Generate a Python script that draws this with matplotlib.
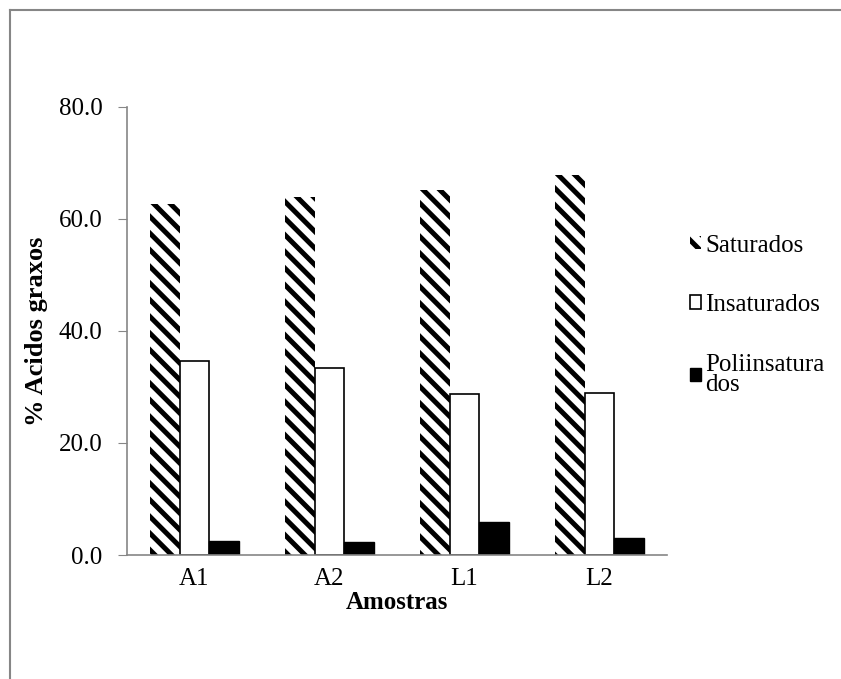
import numpy as np
import matplotlib.pyplot as plt
from matplotlib.lines import Line2D

# data
amostras = ['A1', 'A2', 'L1', 'L2']
saturados = [62.7, 63.9, 65.1, 67.8]
insaturados = [34.6, 33.4, 28.7, 28.9]
poliinsaturados = [2.5, 2.4, 5.9, 3.0]

plt.rcParams['font.family'] = ['Liberation Serif', 'DejaVu Serif']
plt.rcParams['hatch.linewidth'] = 3.6

fig = plt.figure(figsize=(8.41, 6.79), dpi=100)
ax = fig.add_axes([0.151, 0.1826, 0.642, 0.66])

x = np.arange(len(amostras))
w = 0.22
ax.bar(x - w, saturados, w, color='white', edgecolor='black', linewidth=0,
       hatch='\\\\', label='Saturados')
ax.bar(x, insaturados, w, color='white', edgecolor='black', linewidth=1.2,
       label='Insaturados')
ax.bar(x + w, poliinsaturados, w, color='black', edgecolor='black',
       linewidth=1, label='Poliinsatura\ndos')

ax.set_xlim(-0.5, 3.5)
ax.set_ylim(0, 80)
ax.set_yticks([0, 20, 40, 60, 80])
ax.set_yticklabels(['0.0', '20.0', '40.0', '60.0', '80.0'])
ax.set_xticks(x)
ax.set_xticklabels(amostras)
ax.tick_params(axis='y', length=6.5, color='#868686', labelsize=18, pad=11)
ax.tick_params(axis='x', length=0, labelsize=18, pad=9)

for s in ['top', 'right']:
    ax.spines[s].set_visible(False)
for s in ['left', 'bottom']:
    ax.spines[s].set_color('#868686')
    ax.spines[s].set_linewidth(1.2)

ax.set_ylabel('% Acidos graxos', fontsize=19, fontweight='bold', labelpad=8)
ax.set_xlabel('Amostras', fontsize=18, fontweight='bold', labelpad=1)

leg = ax.legend(loc='upper left', bbox_to_anchor=(1.043, 0.715), frameon=False,
                fontsize=18, handlelength=0.45, handleheight=0.45,
                handletextpad=0.15, labelspacing=1.5, borderpad=0,
                borderaxespad=0)
leg.get_texts()[2].set_linespacing(0.9)

# border of the chart area
fig.add_artist(Line2D([0.012, 0.012], [0, 0.985], transform=fig.transFigure,
                      color='#868686', linewidth=1.5))
fig.add_artist(Line2D([0.012, 1.0], [0.985, 0.985], transform=fig.transFigure,
                      color='#868686', linewidth=1.5))

fig.savefig('out.png', dpi=100)
